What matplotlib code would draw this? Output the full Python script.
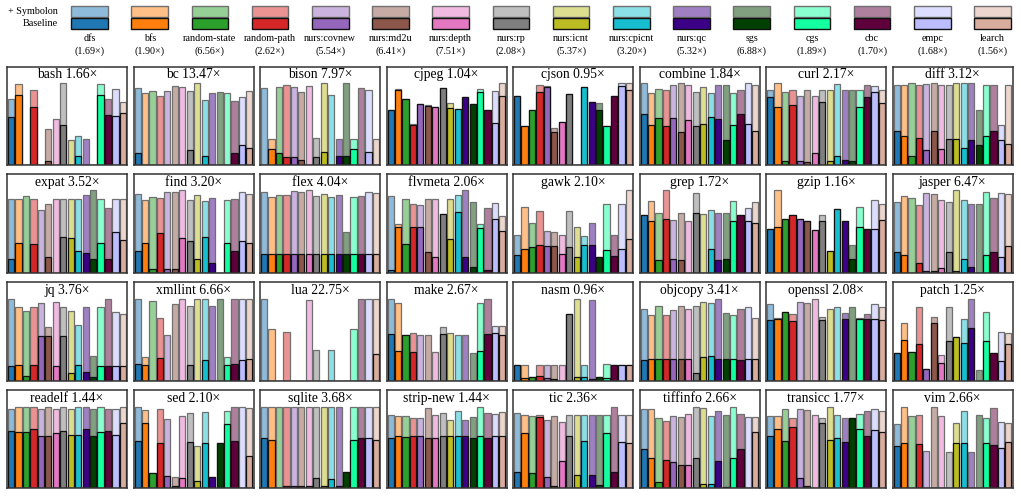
import numpy as np
import matplotlib.pyplot as plt
from matplotlib.colors import to_rgb

plt.rcParams['font.family'] = ['Liberation Serif', 'DejaVu Serif']

#%% Data

strategies = ['dfs', 'bfs', 'random-state', 'random-path', 'nurs:covnew', 'nurs:md2u',
              'nurs:depth', 'nurs:rp', 'nurs:icnt', 'nurs:cpicnt', 'nurs:qc', 'sgs',
              'cgs', 'cbc', 'empc', 'learch']
strategy_speedups = [1.69, 1.90, 6.56, 2.62, 5.54, 6.41, 7.51, 2.08,
                     5.37, 3.20, 5.32, 6.88, 1.89, 1.70, 1.68, 1.56]

programs = ['bash', 'bc', 'bison', 'cjpeg', 'cjson', 'combine', 'curl', 'diff',
            'expat', 'find', 'flex', 'flvmeta', 'gawk', 'grep', 'gzip', 'jasper',
            'jq', 'xmllint', 'lua', 'make', 'nasm', 'objcopy', 'openssl', 'patch',
            'readelf', 'sed', 'sqlite', 'strip-new', 'tic', 'tiffinfo', 'transicc', 'vim']
program_speedups = [1.66, 13.47, 7.97, 1.04, 0.95, 1.84, 2.17, 3.12,
                    3.52, 3.20, 4.04, 2.06, 2.10, 1.72, 1.16, 6.47,
                    3.76, 6.66, 22.75, 2.67, 0.96, 3.41, 2.08, 1.25,
                    1.44, 2.10, 3.68, 1.44, 2.36, 2.66, 1.77, 2.66]

# coverage with Symbolon (relative, % of panel height)
symbolon = [
    [66.5, 82.3, 0, 76, 0, 36.5, 47, 83.6, 25.6, 29, 26, 0, 82.3, 66.5, 77, 63.5],      # bash
    [77.8, 73.4, 74.7, 70, 74.7, 80.2, 78.8, 74.7, 83.6, 65.9, 73, 74, 73.4, 64.5, 68.6, 74.7],  # bc
    [78.5, 26.6, 78.8, 81.2, 79.5, 74.4, 80.2, 27.6, 83.6, 71, 26.6, 83.6, 26.3, 78.5, 76, 26.3],  # bison
    [56.3, 77, 67, 42, 62, 61.4, 59, 77.8, 63, 57, 68.6, 61.8, 77.5, 56.3, 75.4, 83.6],  # cjpeg
    [70, 39.2, 56.3, 81.2, 80.5, 37.5, 43.3, 72.4, 0, 78.8, 63.5, 62.5, 40, 70, 83.6, 83],  # cjson
    [83, 73.4, 76.8, 76, 81, 83.6, 81, 74, 79.5, 73.4, 81.2, 81, 72.7, 75.8, 83, 81],  # combine
    [76, 83.6, 73.7, 76, 70.3, 76, 70.3, 76, 76, 82, 76, 76, 76, 81.2, 80.2, 76],  # curl
    [81.2, 81.2, 83, 81.2, 82.3, 83, 81.2, 81.2, 83, 83, 83, 56.3, 81.2, 81.2, 41, 81.2],  # diff
    [74.8, 74.8, 77.5, 74.8, 64, 69.7, 74.8, 74.8, 74.8, 74.8, 79, 83.7, 74.8, 65.6, 74.8, 74.8],  # expat
    [80.3, 73.5, 76.9, 75.5, 82.3, 81.6, 83.7, 74, 78.6, 72.4, 75.8, 0, 73.5, 74.8, 81.6, 80.3],  # find
    [81.6, 76.9, 79, 79, 83, 82.3, 83.7, 77.5, 80.3, 76.9, 79, 41.5, 76.9, 78.2, 81.6, 81],  # flex
    [78.2, 49.7, 74.8, 70, 68.7, 74.8, 74.8, 60, 74.8, 79.3, 83.7, 72, 49.7, 65.6, 70.7, 57.8],  # flvmeta
    [38.8, 66.3, 50.3, 62.6, 42.2, 41.2, 38.1, 62.6, 46.3, 37.8, 51, 15.6, 69.7, 38.8, 69.7, 83.7],  # gawk
    [58.8, 72.8, 60.5, 83.7, 53.7, 60.5, 53, 81, 59.2, 63.3, 60.5, 61.2, 72.8, 58.8, 65.6, 71.4],  # grep
    [44.2, 83.7, 54.4, 58.2, 54.8, 53, 43.5, 58.2, 22.4, 64.6, 53, 28.2, 67, 44.2, 73.5, 70],  # gzip
    [72, 77.5, 76.2, 68.7, 81, 79.6, 73.5, 71.4, 83.7, 73.5, 70, 70, 81.6, 76.2, 81, 79.6],  # jasper
    [83.1, 74.3, 70.3, 75, 78.7, 54.4, 79.7, 75, 71, 56, 75, 25, 74.3, 83.1, 69.6, 67.6],  # jq
    [83.1, 23.6, 81, 63.5, 46.6, 77.7, 83.1, 75.7, 83.1, 83.1, 75.7, 83.1, 23.6, 83.1, 83.1, 83.1],  # xmllint
    [83.1, 52.7, 0, 49.3, 0, 0, 81.8, 31.1, 0, 31.1, 0, 0, 52.7, 83.1, 82.4, 82.4],  # lua
    [83.1, 78.4, 46.6, 48, 46.6, 46.6, 29, 54, 48.3, 46.6, 46.6, 27.7, 78.7, 83.1, 55, 55],  # make
    [16.2, 16.2, 3.4, 16.2, 16.2, 15.5, 15.5, 67.6, 83.1, 16.2, 81.8, 3.4, 16.9, 16.2, 16.2, 15.5],  # nasm
    [73, 66.2, 75.7, 66.9, 71.6, 75.7, 73, 75.7, 79.7, 79, 83.1, 68.2, 66.2, 73, 74.3, 63.5],  # objcopy
    [77.7, 63.5, 69.6, 67.6, 79.7, 78.4, 83.1, 64.9, 73, 74.3, 68.2, 74.3, 63.5, 67.6, 77.7, 75],  # openssl
    [28.4, 58.8, 29, 75, 12.2, 64.2, 26.4, 75, 43.9, 62.2, 83.1, 10.5, 69.6, 28.4, 49, 48],  # patch
    [81, 83.1, 83.1, 82.4, 80.4, 83.1, 80.4, 83.1, 81, 83.1, 83.1, 81, 83.1, 81, 81, 83.1],  # readelf
    [83.1, 79.7, 15.5, 81, 70.3, 11.1, 73, 76.4, 42.6, 77.7, 11.1, 45.6, 79, 83.1, 83.1, 81.8],  # sed
    [83.1, 83.1, 83.1, 83.1, 83.1, 83.1, 83.1, 83.1, 83.1, 83.1, 83.1, 16.2, 83.1, 83.1, 83.1, 83.1],  # sqlite
    [75, 73, 73, 71, 71.6, 81.8, 75, 76.4, 69.6, 78.4, 69.6, 72.3, 82.4, 77, 75.7, 77.7],  # strip-new
    [77, 74.3, 73.6, 74.3, 69, 73.6, 67.6, 74.3, 74.3, 74.3, 74.3, 74.3, 74.3, 83.1, 74.3, 74.3],  # tic
    [81, 80.4, 71.6, 68.2, 73, 72.3, 75.7, 82.4, 81.8, 73, 78.4, 74.3, 82.4, 75.7, 72.3, 72.3],  # tiffinfo
    [73.6, 73, 81, 71, 81, 79.7, 75, 71.6, 83.1, 74.3, 71.6, 71.6, 75.7, 78.4, 80.4, 79],  # transicc
    [65.2, 83.1, 73, 75, 37.8, 83.1, 73, 37.2, 66.2, 78.4, 37.2, 75, 71.6, 81.8, 67.6, 66.2],  # vim
]

# coverage of the baseline strategy alone
baseline = [
    [48.8, 71, 0, 58.4, 0, 4.4, 0, 41, 0, 9.2, 0, 0, 71, 51, 50, 53],  # bash
    [12, 0, 0, 0, 0, 0, 0, 15.4, 0, 9.2, 0, 0, 0, 12.6, 20.5, 17],  # bc
    [0, 16.4, 12.3, 7.8, 7.8, 5, 0, 7.8, 13.6, 0, 9.5, 9.5, 16.4, 0, 13.6, 0],  # bison
    [56.3, 76, 67, 41, 62, 60, 59, 77.8, 58, 57, 68.6, 61.8, 74, 56.3, 43, 70.3],  # cjpeg
    [70, 39.2, 56.3, 74.4, 79.5, 34, 43.3, 72.4, 0, 78.8, 63.5, 55.6, 40, 70, 80.2, 76],  # cjson
    [52, 40.3, 48, 39.2, 47.8, 34, 45.4, 39.2, 41.3, 48.8, 47, 25.6, 41, 52.2, 42, 34.5],  # combine
    [68.6, 59, 3.8, 61.4, 3.8, 3.4, 12.3, 63.5, 4.4, 9.5, 5, 4.4, 59, 68.6, 73.7, 62.5],  # curl
    [35, 29.7, 9.2, 27.6, 15.4, 35, 16.4, 26, 26, 17, 25.6, 20.5, 29.7, 35, 25, 21.5],  # diff
    [13.6, 30, 0, 29.3, 0, 16.3, 0, 36.7, 35, 22.4, 20.4, 13.6, 30, 13.6, 41.5, 33.3],  # expat
    [22, 30, 3.7, 40, 3.7, 3.4, 35, 32.6, 13.6, 36.7, 10.2, 0, 30.6, 22, 32.3, 30],  # find
    [18.7, 18.7, 18.7, 18.7, 18.7, 18.7, 18.7, 18.7, 18.7, 18.7, 18.7, 18.7, 18.7, 18.7, 18.7, 18.7],  # flex
    [2.7, 46.3, 29.3, 46.3, 47, 21, 16.3, 60, 34, 62.2, 16.3, 5.4, 45.2, 2.7, 54.4, 42.9],  # flvmeta
    [17.7, 23.8, 25.9, 28.6, 27.2, 27.2, 18.7, 25.9, 15.6, 28.6, 28.2, 15.6, 23.1, 17.3, 23.8, 34.7],  # gawk
    [58.8, 52.7, 12.9, 54.4, 13.6, 12.9, 0, 60.5, 0, 23.8, 12.9, 13.6, 52.7, 58.8, 52.7, 50.3],  # grep
    [44.2, 46.3, 54.4, 58.2, 54.8, 53, 43.5, 53, 22.4, 64.6, 53, 13.6, 46.3, 44.2, 44.2, 53.7],  # gzip
    [21.4, 17.7, 0, 10.2, 1.7, 1.7, 5, 21.4, 1.7, 14.3, 5.4, 0, 17.7, 21.4, 15.6, 27.2],  # jasper
    [14.5, 15.5, 4.4, 15.5, 45, 45, 14.5, 45, 7.8, 15.5, 8.8, 4, 14.5, 14.5, 14.5, 14.5],  # jq
    [16.9, 16.2, 0, 23, 0, 0, 0, 16.2, 0, 21.3, 0, 0, 16.2, 16.9, 21, 22.3],  # xmllint
    [0, 0, 0, 0, 0, 0, 0, 0, 0, 0, 0, 0, 0, 0, 0, 27.4],  # lua
    [47.3, 30.4, 46.6, 29, 0, 0, 0, 47.3, 0, 0, 0, 0, 30.4, 47.3, 48.3, 46],  # make
    [16.2, 2.7, 3.4, 5, 2.7, 1.7, 0, 67.6, 4, 4, 1.4, 3.4, 2.7, 16.2, 16.2, 15.5],  # nasm
    [21, 21.6, 21.6, 21.6, 21.6, 21.6, 21.6, 7.8, 24.3, 25, 21.6, 21.6, 21.6, 21, 21.6, 21.6],  # objcopy
    [61.5, 62.2, 69.6, 60.8, 0, 0, 0, 61.5, 0, 0, 62.8, 0, 62.8, 62.8, 62.8, 61.5],  # openssl
    [28.4, 41.2, 29, 37.2, 12.2, 58.8, 17.6, 39.9, 43.9, 37.8, 53.4, 0, 40.5, 28.4, 20.3, 37.2],  # patch
    [58.4, 56.8, 57.4, 60.8, 52.7, 52.7, 56.1, 58.4, 54.7, 54, 60.1, 52.7, 56.8, 58.4, 54, 66.2],  # readelf
    [48, 66.2, 15.5, 46, 12.8, 2.7, 10.1, 46.6, 7.8, 46, 11.1, 45.6, 65.2, 48.3, 0, 33.1],  # sed
    [50.7, 49.3, 0, 2.7, 2.7, 2.7, 2.7, 10.1, 2.7, 9.5, 2.7, 16.2, 49.3, 50.7, 50.7, 49.3],  # sqlite
    [51.4, 52.7, 51.7, 52.7, 52.7, 51.4, 51.4, 52.7, 52.7, 52.7, 52.7, 51.4, 52.7, 51.4, 52.7, 52.7],  # strip-new
    [16.2, 56, 15.5, 72.3, 11.1, 2.7, 27.7, 53.4, 13.5, 48, 13.5, 3.4, 56, 16.2, 46.6, 46],  # tic
    [39.9, 30.4, 6.1, 28.4, 27, 23.6, 23.6, 30.4, 4.7, 4.7, 27.7, 1.4, 30.4, 39.9, 0, 56.8],  # tiffinfo
    [53.4, 60.8, 48.3, 62.8, 10.1, 2.7, 0, 66.9, 49.3, 51.4, 47.3, 71.6, 60.8, 53.4, 59.5, 57.4],  # transicc
    [43.2, 45.6, 0, 45.3, 0, 0, 0, 0, 45.6, 45.6, 0, 0, 45.6, 43.9, 41.2, 46.6],  # vim
]

#%% Colours

dark_colors = ['#1f77b4', '#ff7f0e', '#2ca02c', '#d62728', '#9467bd', '#8c564b',
               '#e377c2', '#7f7f7f', '#bcbd22', '#17becf', '#3c0087', '#004000',
               '#14ffa0', '#5f003d', '#bbbdff', '#d9ad9d']
light_colors = [tuple(0.5 + 0.5 * np.array(to_rgb(c))) for c in dark_colors]

light_edge = '#707070'
dark_edge = '#111111'

#%% Figure

W, H = 1021, 496
fig = plt.figure(figsize=(W / 100, H / 100), dpi=100)

# legend strip on top
lax = fig.add_axes([0, 1 - 60 / H, 1, 60 / H])
pitch = 60.2
lax.set_xlim(-89.5 / pitch, (W - 89.5) / pitch)
lax.set_ylim(60, 0)
lax.axis('off')
idx = np.arange(len(strategies))
lax.bar(idx, 10.5, bottom=6.2, width=0.61, color=light_colors,
        edgecolor=light_edge, linewidth=1.0)
lax.bar(idx, 10.5, bottom=18.3, width=0.61, color=dark_colors,
        edgecolor=dark_edge, linewidth=1.0)
lax.text(-0.52, 11.5, '+ Symbolon', ha='right', va='center', fontsize=7.3)
lax.text(-0.52, 23.5, 'Baseline', ha='right', va='center', fontsize=7.3)
for i, (name, sp) in enumerate(zip(strategies, strategy_speedups)):
    lax.text(i, 38.5, name, ha='center', va='center', fontsize=7.3)
    lax.text(i, 51, f'({sp:.2f}\u00d7)', ha='center', va='center', fontsize=7.3)

# panels
x = np.arange(len(strategies))
for k, prog in enumerate(programs):
    r, c = divmod(k, 8)
    left = 7 + 126.5 * c
    top = 66.5 + 107.8 * r
    ax = fig.add_axes([left / W, 1 - (top + 98.5) / H, 120 / W, 98.5 / H])
    ax.bar(x, symbolon[k], width=0.82, color=light_colors,
           edgecolor=light_edge, linewidth=0.9)
    ax.bar(x, baseline[k], width=0.82, color=dark_colors,
           edgecolor=dark_edge, linewidth=0.9)
    ax.set_xlim(-0.55, 15.55)
    ax.set_ylim(0, 100)
    ax.set_xticks([])
    ax.set_yticks([])
    for s in ax.spines.values():
        s.set_color('#333333')
        s.set_linewidth(1.1)
        s.set_zorder(5)
    ax.text(0.5, 0.915, f'{prog} {program_speedups[k]:.2f}\u00d7',
            transform=ax.transAxes, ha='center', va='center', fontsize=9.8)

fig.savefig('out.png', dpi=100)
